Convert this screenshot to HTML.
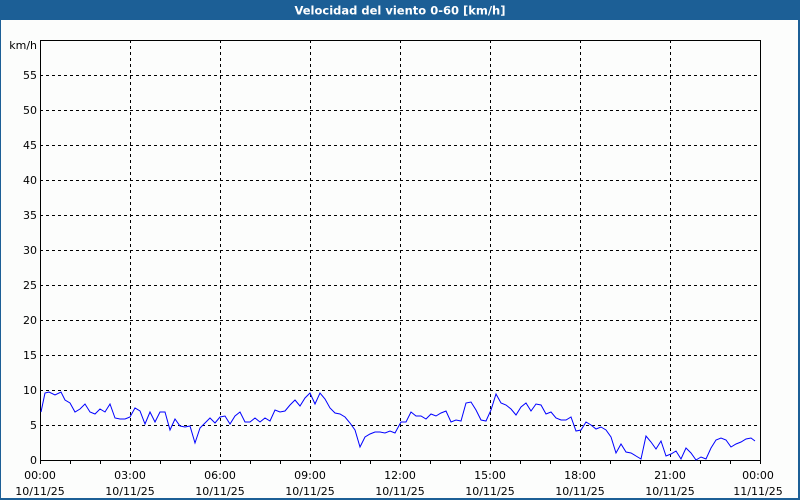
<!DOCTYPE html>
<html><head><meta charset="utf-8"><style>
body{margin:0;width:800px;height:500px;overflow:hidden;background:#fff}
svg{display:block}
text{font-family:"DejaVu Sans","Liberation Sans",sans-serif;font-size:11px;fill:#000}
</style></head><body>
<svg width="800" height="500" viewBox="0 0 800 500">
<rect x="0" y="0" width="800" height="500" fill="#1c5f96"/>
<rect x="1" y="20" width="797" height="478" fill="#fcfdfc"/>
<text x="400" y="14.5" text-anchor="middle" style="font-weight:bold;fill:#fff;font-size:11.5px">Velocidad del viento 0-60 [km/h]</text>
<g stroke="#000" stroke-width="1" stroke-dasharray="3,3" fill="none">
<path d="M40 75.5H760M40 110.5H760M40 145.5H760M40 180.5H760M40 215.5H760M40 250.5H760M40 285.5H760M40 320.5H760M40 355.5H760M40 390.5H760M40 425.5H760"/>
<path d="M130.5 40V460M220.5 40V460M310.5 40V460M400.5 40V460M490.5 40V460M580.5 40V460M670.5 40V460"/>
</g>
<rect x="40.5" y="40.5" width="720" height="420" fill="none" stroke="#000"/>
<g stroke="#000">
<path d="M70.5 460v4M100.5 460v4M130.5 460v4M160.5 460v4M190.5 460v4M220.5 460v4M250.5 460v4M280.5 460v4M310.5 460v4M340.5 460v4M370.5 460v4M400.5 460v4M430.5 460v4M460.5 460v4M490.5 460v4M520.5 460v4M550.5 460v4M580.5 460v4M610.5 460v4M640.5 460v4M670.5 460v4M700.5 460v4M730.5 460v4M760.5 460v4M40.5 460v4"/>
</g>
<g text-anchor="end">
<text x="37" y="49">km/h</text>
<text x="37" y="79">55</text><text x="37" y="114">50</text><text x="37" y="149">45</text>
<text x="37" y="184">40</text><text x="37" y="219">35</text><text x="37" y="254">30</text>
<text x="37" y="289">25</text><text x="37" y="324">20</text><text x="37" y="359">15</text>
<text x="37" y="394">10</text><text x="37" y="429">5</text><text x="37" y="464">0</text>
</g>
<g text-anchor="middle">
<text x="40" y="479">00:00</text><text x="40" y="495">10/11/25</text>
<text x="130" y="479">03:00</text><text x="130" y="495">10/11/25</text>
<text x="220" y="479">06:00</text><text x="220" y="495">10/11/25</text>
<text x="310" y="479">09:00</text><text x="310" y="495">10/11/25</text>
<text x="400" y="479">12:00</text><text x="400" y="495">10/11/25</text>
<text x="490" y="479">15:00</text><text x="490" y="495">10/11/25</text>
<text x="580" y="479">18:00</text><text x="580" y="495">10/11/25</text>
<text x="670" y="479">21:00</text><text x="670" y="495">10/11/25</text>
<text x="758" y="479">00:00</text><text x="758" y="495">11/11/25</text>
</g>
<polyline fill="none" stroke="#0000ff" stroke-width="1" points="41,412 45,393 49,392 55,395 61,392 65,400 70,403 75,412 80,409 85,404 90,412 95,414 100,409 105,412 110,404 115,418 120,419 125,419 130,417 135,408 140,411 145,424 150,412 155,422 160,412 165,412 170,430 175,419 180,426 185,427 190,426 195,443 200,428 205,423 210,418 215,423 220,417 225,416 230,424 235,416 240,412 245,422 250,422 255,418 260,422 265,418 270,421 275,410 280,412 285,411 290,405 295,400 300,406 305,398 310,393 315,404 320,393 325,399 330,408 335,413 340,414 345,417 350,423 355,430 360,447 365,437 370,434 375,432 380,432 385,433 390,431 395,433 401,422 406,422 411,412 416,416 421,416 426,419 431,414 436,416 441,413 446,411 451,422 456,420 461,421 466,403 471,402 476,410 481,420 486,421 491,410 496,394 501,403 506,405 511,409 516,415 521,407 526,403 531,411 536,404 541,405 546,414 551,412 556,418 561,420 566,420 571,417 576,431 581,430 586,422 591,425 596,429 601,427 606,430 611,437 616,453 621,444 626,452 631,453 636,456 641,459 646,436 651,442 656,449 661,441 666,456 671,454 676,451 681,459 686,448 691,453 696,460 701,457 706,459 711,448 716,440 721,438 726,440 731,447 736,444 741,442 746,439 751,438 755,441"/>
</svg>
</body></html>
